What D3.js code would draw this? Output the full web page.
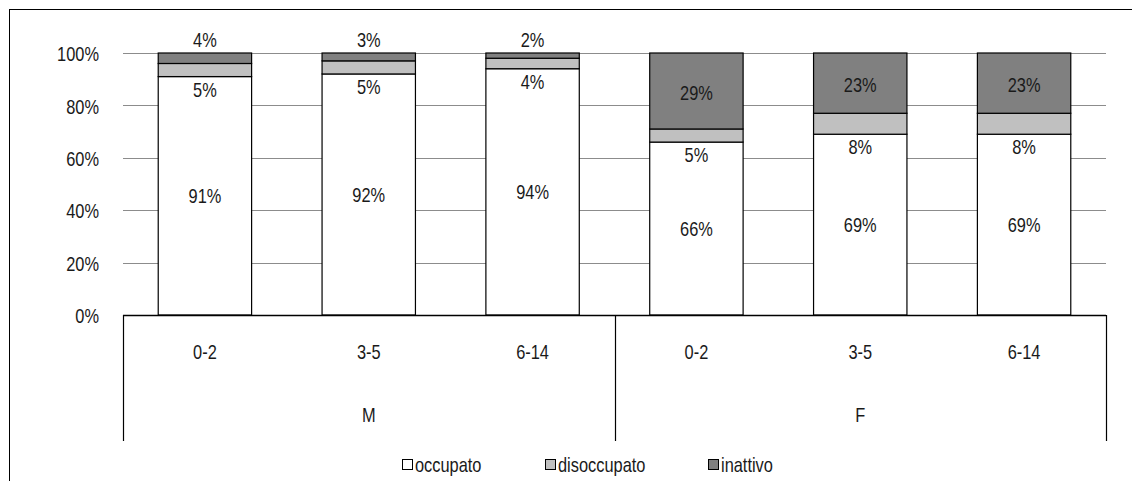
<!DOCTYPE html>
<html>
<head>
<meta charset="utf-8">
<script src="https://cdn.jsdelivr.net/npm/d3@7"></script>
<style>
  body { margin: 0; background: #fff; }
  svg text { font-family: "Liberation Sans", Arial, sans-serif; font-size: 20px; fill: #1a1a1a; }
</style>
</head>
<body>
<div id="chart"></div>
<script>
// data
const groups = ["M", "M", "M", "F", "F", "F"];
const ages = ["0-2", "3-5", "6-14", "0-2", "3-5", "6-14"];
const keys = ["occupato", "disoccupato", "inattivo"];
const occupato = [91, 92, 94, 66, 69, 69];
const disoccupato = [5, 5, 4, 5, 8, 8];
const inattivo = [4, 3, 2, 29, 23, 23];
const yTicks = [0, 20, 40, 60, 80, 100];
const colors = ["#ffffff", "#c0c0c0", "#808080"];

const W = 1132, H = 481;
const margin = {top: 53, right: 26, bottom: 166, left: 123};
const width = W - margin.left - margin.right,
      height = H - margin.top - margin.bottom;
const SX = 0.82; // squeeze text to look like a narrow font

const svg = d3.select("#chart").append("svg")
  .attr("width", W).attr("height", H);

// puts narrow text at (px, py)
function label(parent, px, py, txt, anchor) {
  return parent.append("text")
    .attr("transform", `translate(${px},${py}) scale(${SX},1)`)
    .attr("text-anchor", anchor || "middle")
    .attr("dominant-baseline", "central")
    .text(txt);
}

// outer border (runs off the right and bottom)
svg.append("rect")
  .attr("x", 9.5).attr("y", 9.5)
  .attr("width", W + 20).attr("height", H + 20)
  .attr("fill", "none").attr("stroke", "#000").attr("stroke-width", 1);

const g = svg.append("g").attr("transform", `translate(${margin.left},${margin.top})`);

const rows = ages.map((a, i) => ({
  idx: i, age: a, group: groups[i],
  occupato: occupato[i], disoccupato: disoccupato[i], inattivo: inattivo[i]
}));

const x = d3.scaleBand().domain(d3.range(rows.length)).range([0, width]).paddingInner(0.43).paddingOuter(0.215);
const y = d3.scaleLinear().domain([0, 100]).range([height, 0]);

// gridlines
g.selectAll(".grid").data(yTicks.filter(d => d > 0)).enter().append("line")
  .attr("x1", 0).attr("x2", width)
  .attr("y1", d => Math.round(y(d)) + 0.5).attr("y2", d => Math.round(y(d)) + 0.5)
  .attr("stroke", "#8c8c8c").attr("stroke-width", 1);

// y axis labels
yTicks.forEach(t => label(g, -24, y(t) + 1, t + "%", "end"));

// stacked bars
const stack = d3.stack().keys(keys)(rows);
stack.forEach((layer, k) => {
  g.selectAll(".s" + k).data(layer).enter().append("rect")
    .attr("x", (d, i) => x(i))
    .attr("width", x.bandwidth())
    .attr("y", d => y(d[1]))
    .attr("height", d => y(d[0]) - y(d[1]))
    .attr("fill", colors[k])
    .attr("stroke", "#000").attr("stroke-width", 1.2);
});

// value labels
stack.forEach((layer, k) => {
  layer.forEach((d, i) => {
    const v = d[1] - d[0];
    let ly;
    if (k === 0) ly = y((d[0] + d[1]) / 2);
    else if (k === 1) ly = y(d[0]) + 13;
    else ly = v < 10 ? y(d[1]) - 13 : y((d[0] + d[1]) / 2) + 2;
    label(g, x(i) + x.bandwidth() / 2, ly, Math.round(v) + "%");
  });
});

// x axis line
g.append("line").attr("x1", 0).attr("x2", width)
  .attr("y1", height + 0.5).attr("y2", height + 0.5)
  .attr("stroke", "#000").attr("stroke-width", 1.5);

// category labels
rows.forEach(d => label(g, x(d.idx) + x.bandwidth() / 2, height + 37, d.age));

// group separators and labels
const groupNames = ["M", "F"];
const gw = width / 2;
[0, gw, width].forEach(px => {
  g.append("line").attr("x1", Math.round(px) + 0.5).attr("x2", Math.round(px) + 0.5)
    .attr("y1", height).attr("y2", height + 126)
    .attr("stroke", "#000").attr("stroke-width", 1.2);
});
groupNames.forEach((n, i) => label(g, gw * i + gw / 2, height + 100, n));

// legend
const legendX = [402, 545, 708];
keys.forEach((k, i) => {
  svg.append("rect").attr("x", legendX[i] + 0.5).attr("y", 459.5).attr("width", 10).attr("height", 10)
    .attr("fill", colors[i]).attr("stroke", "#000").attr("stroke-width", 1);
  label(svg, legendX[i] + 13, 465, k, "start");
});
</script>
</body>
</html>
